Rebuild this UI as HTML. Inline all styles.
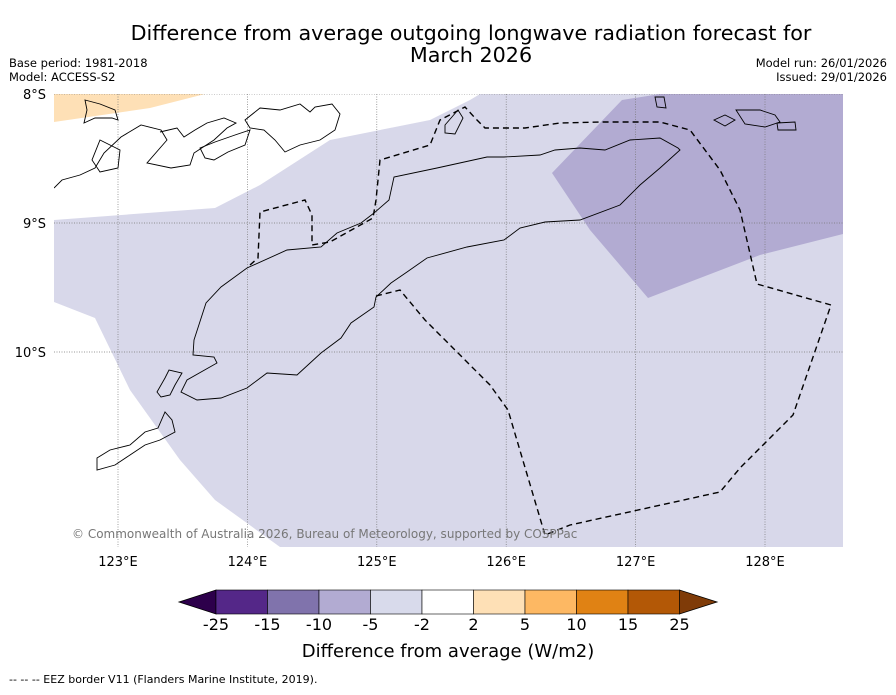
<!DOCTYPE html>
<html><head><meta charset="utf-8"><style>
body{margin:0;background:#fff;font-family:"Liberation Sans","DejaVu Sans",sans-serif}
svg text{font-family:"DejaVu Sans","Liberation Sans",sans-serif}
</style></head><body>
<svg id="chart" width="896" height="690" viewBox="0 0 896 690" xmlns="http://www.w3.org/2000/svg">
<text x="471" y="40" font-size="20.7" text-anchor="middle">Difference from average outgoing longwave radiation forecast for</text>
<text x="471" y="62" font-size="20.7" text-anchor="middle">March 2026</text>
<text x="9" y="67" font-size="11.5">Base period: 1981-2018</text>
<text x="9" y="81" font-size="11.5">Model: ACCESS-S2</text>
<text x="887" y="67" font-size="11.5" text-anchor="end">Model run: 26/01/2026</text>
<text x="887" y="81" font-size="11.5" text-anchor="end">Issued: 29/01/2026</text>
<defs><clipPath id="mc"><rect x="54" y="94" width="789" height="453"/></clipPath></defs>
<g clip-path="url(#mc)">
<polygon fill="#fee0b6" points="54,94 205,94 150,108 54,122"/>
<polygon fill="#d8d8ea" points="54,220 215,208 260,185 330,140 430,120 470,100 480,94 843,94 843,547 280,547 215,500 180,460 130,390 95,318 54,302"/>
<polygon fill="#b2abd2" points="552,173 622,100 660,94 843,94 843,234 760,255 648,298 590,230"/>
<g id="grid" stroke="#777" stroke-width="0.7" stroke-dasharray="1,1.5" fill="none"></g>
<g fill="none" stroke="#000" stroke-width="0.9">
<polygon points="193,355 194,340 206,303 221,287 247,268 287,250 321,247 337,233 361,223 374,213 389,200 394,177 437,168 487,157 504,157 540,155 555,150 580,148 605,150 630,140 660,138 678,148 680,150 660,168 640,185 620,205 580,220 545,222 520,228 504,240 467,247 427,258 407,272 391,283 376,297 374,307 351,323 341,338 321,353 297,375 267,373 247,388 221,398 197,400 181,392 187,380 217,363 214,357"/>
<polygon points="157,392 165,378 169,370 182,373 175,385 170,395 161,397"/>
<polygon points="97,458 110,450 130,445 145,432 158,428 165,412 172,420 175,432 160,440 145,445 130,455 115,465 97,470"/>
<polygon points="85,100 100,104 115,110 118,120 112,118 95,118 84,123 87,110"/>
<polyline points="54,188 62,180 80,175 95,168 104,153 121,137 141,125 161,130 167,140 147,163 171,168 190,165 194,153 214,140 227,128 236,123 224,118 207,123 195,130 184,137 177,128 160,132"/>
<polygon points="100,140 120,150 118,168 100,172 92,160"/>
<polygon points="260,108 280,110 300,104 310,112 315,107 332,104 340,114 335,130 320,140 300,145 285,152 275,140 264,130 250,128 245,120"/>
<polygon points="200,148 215,142 235,135 250,130 245,145 228,152 214,160 205,158"/>
<polygon points="445,125 458,110 463,118 455,134 445,133"/>
<polygon points="655,97 664,97 666,108 657,107"/>
<polygon points="714,120 725,115 735,120 725,126"/>
<polygon points="736,110 760,110 775,115 780,122 765,127 745,124"/>
<polygon points="777,123 795,122 796,130 778,130"/>
</g>
<polyline fill="none" stroke="#000" stroke-width="1.4" stroke-dasharray="6,4" points="376,296 400,290 425,320 490,385 508,410 545,535 570,525 720,492 740,468 793,415 831,305 757,284 740,210 720,170 690,130 660,122 600,122 560,123 525,128 485,128 475,118 465,107 440,120 430,145 380,160 376,200 373,218 330,242 312,245 312,215 305,200 260,212 258,258 250,265"/>
<text x="72" y="538" font-size="12" fill="#777">© Commonwealth of Australia 2026, Bureau of Meteorology, supported by COSPPac</text>
</g>
<g id="labels" font-size="13"></g>
<g id="cbar"></g>
<text x="448" y="657" font-size="18" text-anchor="middle">Difference from average (W/m2)</text>
<text x="9" y="683" font-size="11">--  --  -- EEZ border V11 (Flanders Marine Institute, 2019).</text>
</svg>
<script>
const lonTicks=[123,124,125,126,127,128];
const latTicks=[8,9,10];
const cbBounds=[-25,-15,-10,-5,-2,2,5,10,15,25];
const cbColors=["#542788","#8073ac","#b2abd2","#d8daeb","#ffffff","#fee0b6","#fdb863","#e08214","#b35806"];
const NS="http://www.w3.org/2000/svg";
const xs=lon=>118+(lon-123)*129.4;
const ys=lat=>94+(lat-8)*129;
const grid=document.getElementById('grid'),labels=document.getElementById('labels'),cb=document.getElementById('cbar');
function mk(tag,at,p){const e=document.createElementNS(NS,tag);for(const k in at)e.setAttribute(k,at[k]);p.appendChild(e);return e;}
lonTicks.forEach(l=>{
 const g=mk('line',{x1:xs(l),x2:xs(l),y1:94,y2:547},grid);
 
 
 const t=mk('text',{x:xs(l),y:566,'text-anchor':'middle'},labels);t.textContent=l+'°E';
 
 
});
latTicks.forEach(l=>{
 const g=mk('line',{x1:54,x2:843,y1:ys(l),y2:ys(l)},grid);
 
 
 const t=mk('text',{x:46,y:ys(l)+5,'text-anchor':'end'},labels);t.textContent=l+'°S';
 
 
});
const x0=216,w=51.5,y0=590,h=24;
const lt=mk('polygon',{points:`${x0},${y0} ${x0},${y0+h} 179,${y0+h/2}`,fill:'#2d004b',stroke:'#000','stroke-width':0.8},cb);


const xe=x0+w*cbColors.length;
const rt=mk('polygon',{points:`${xe},${y0} ${xe},${y0+h} 717,${y0+h/2}`,fill:'#7f3b08',stroke:'#000','stroke-width':0.8},cb);


cbColors.forEach((c,i)=>{
 const r=mk('rect',{x:x0+w*i,y:y0,width:w,height:h,fill:c,stroke:'#000','stroke-width':0.6},cb);
 
 
});
cbBounds.forEach((b,i)=>{
 const t=mk('text',{x:x0+w*i,y:630,'text-anchor':'middle','font-size':16},cb);t.textContent=b;
 
 
});
</script>
</body></html>
